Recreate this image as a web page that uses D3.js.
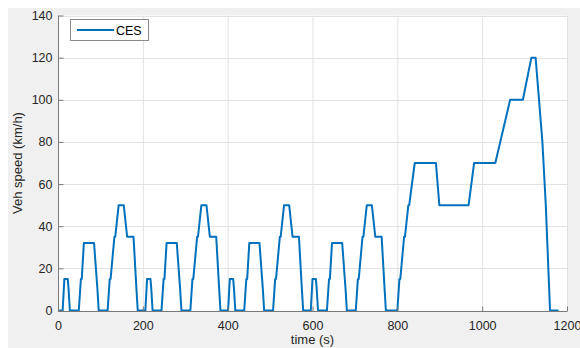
<!DOCTYPE html>
<html><head><meta charset="utf-8">
<script src="https://cdn.jsdelivr.net/npm/d3@7"></script>
<style>body{margin:0;background:#fff}svg{display:block}text{font-family:"Liberation Sans",Arial,sans-serif}</style>
</head><body>
<svg id="c" width="580" height="348"></svg>
<script>
// NEDC driving cycle (time in s, speed in km/h)
const timeS = [
  0,11,15,23,25,28,49,54,56,61,85,93,96,117,122,124,133,135,143,155,163,178,185,188,
  195,206,210,218,220,223,244,249,251,256,280,288,291,312,317,319,328,330,338,350,358,373,380,383,
  390,401,405,413,415,418,439,444,446,451,475,483,486,507,512,514,523,525,533,545,553,568,575,578,
  585,596,600,608,610,613,634,639,641,646,670,678,681,702,707,709,718,720,728,740,748,763,770,773,
  780,800,805,807,816,818,826,828,841,891,899,968,981,1031,1066,1096,1116,1126,1142,1150,1160,1180
];
const speedKmh = [
  0,0,15,15,10,0,0,15,15,32,32,10,0,0,15,15,35,35,50,50,35,35,10,0,
  0,0,15,15,10,0,0,15,15,32,32,10,0,0,15,15,35,35,50,50,35,35,10,0,
  0,0,15,15,10,0,0,15,15,32,32,10,0,0,15,15,35,35,50,50,35,35,10,0,
  0,0,15,15,10,0,0,15,15,32,32,10,0,0,15,15,35,35,50,50,35,35,10,0,
  0,0,15,15,35,35,50,50,70,70,50,50,70,70,100,100,120,120,80,50,0,0
];
const xTicks = [0,200,400,600,800,1000,1200];
const yTicks = [0,20,40,60,80,100,120,140];
const seriesName = "CES";
const xLabel = "time (s)";
const yLabel = "Veh speed (km/h)";

const svg = d3.select("#c");
svg.append("rect").attr("x",8).attr("y",8).attr("width",572).attr("height",340).attr("fill","#f0f0f0");

const L=58, R=567, T=15.5, B=310.5;
const x = d3.scaleLinear().domain([0,1200]).range([L,R]);
const y = d3.scaleLinear().domain([0,140]).range([B,T]);

svg.append("rect").attr("x",L).attr("y",T).attr("width",R-L).attr("height",B-T).attr("fill","#fff");

// grid
const g = svg.append("g");
g.selectAll(".gx").data(xTicks.filter(d=>d>0)).join("line")
  .attr("x1",d=>x(d)+0.5).attr("x2",d=>x(d)+0.5).attr("y1",T).attr("y2",B)
  .attr("stroke","#e3e3e3").attr("stroke-width",1);
g.selectAll(".gy").data(yTicks.filter(d=>d>0)).join("line")
  .attr("y1",d=>Math.round(y(d))+0.5).attr("y2",d=>Math.round(y(d))+0.5).attr("x1",L).attr("x2",R)
  .attr("stroke","#e3e3e3").attr("stroke-width",1);

// data line
const line = d3.line().x((d,i)=>x(timeS[i])).y((d,i)=>y(speedKmh[i]));
svg.append("path").datum(speedKmh).attr("d",line).attr("fill","none")
  .attr("stroke","#0072BD").attr("stroke-width",2).attr("stroke-linejoin","round");

// axes
const axCol = "#7a7a7a";
const xa = svg.append("g").attr("transform",`translate(0,${Math.round(B)+0.5})`)
  .call(d3.axisBottom(x).tickValues(xTicks).tickSize(-5).tickPadding(10).tickFormat(d3.format("d")));
const ya = svg.append("g").attr("transform",`translate(${L+0.5},0)`)
  .call(d3.axisLeft(y).tickValues(yTicks).tickSize(-5).tickPadding(6).tickFormat(d3.format("d")));
[xa,ya].forEach(a=>{
  a.select(".domain").attr("stroke",axCol);
  a.selectAll(".tick line").attr("stroke",axCol);
  a.selectAll(".tick text").attr("fill","#262626").attr("font-size","12.5px")
    .attr("font-family","'Liberation Sans',Arial,sans-serif");
});
xa.select(".domain").attr("d",`M${L},0H${R}`);
ya.select(".domain").attr("d",`M0,${B}V${T}`);

// labels
svg.append("text").attr("x",(L+R)/2).attr("y",344).attr("text-anchor","middle")
  .attr("font-size","13px").attr("fill","#262626").text(xLabel);
svg.append("text").attr("transform",`translate(22,${(T+B)/2}) rotate(-90)`).attr("text-anchor","middle")
  .attr("font-size","13px").attr("fill","#262626").text(yLabel);

// legend
const lg = svg.append("g");
lg.append("rect").attr("x",70.5).attr("y",19.5).attr("width",78).attr("height",21)
  .attr("fill","#fff").attr("stroke","#8a8a8a").attr("stroke-width",1);
lg.append("line").attr("x1",77).attr("x2",114).attr("y1",30).attr("y2",30)
  .attr("stroke","#0072BD").attr("stroke-width",2);
lg.append("text").attr("x",116).attr("y",34.5).attr("font-size","12.5px").attr("fill","#000").text(seriesName);
</script>
</body></html>
